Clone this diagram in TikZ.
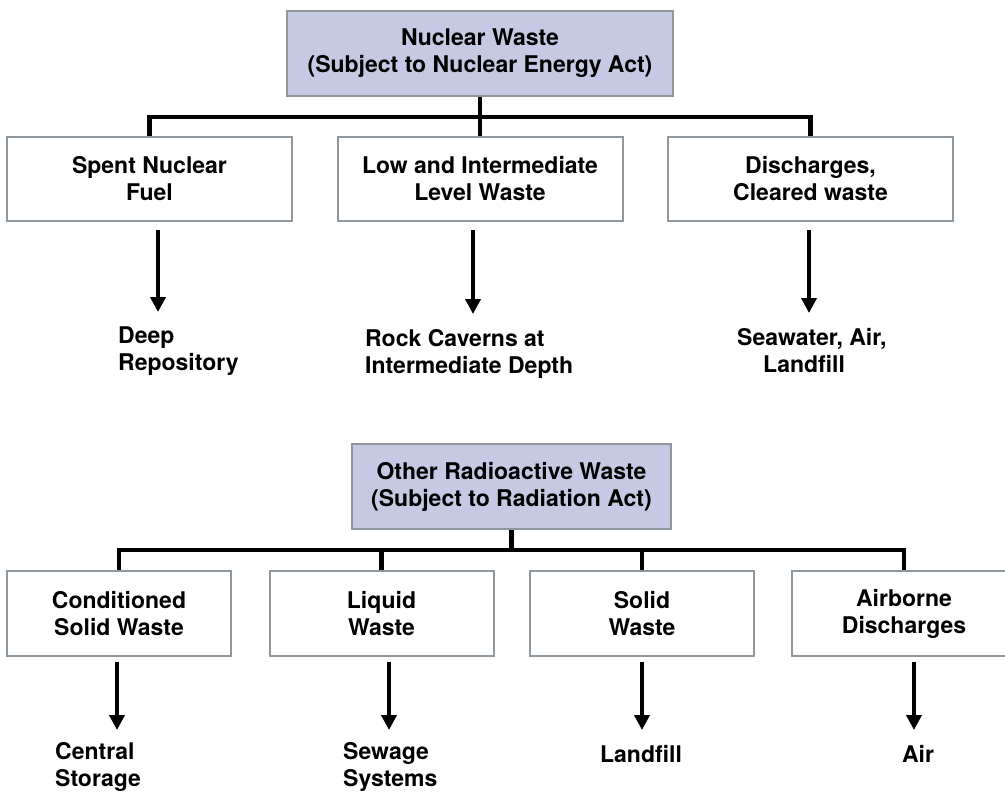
\documentclass[tikz,border=0pt]{standalone}
\usepackage{fontspec}
\setmainfont{TeX Gyre Heros}
\usetikzlibrary{positioning, arrows.meta, backgrounds}
\definecolor{headfill}{RGB}{197, 201, 228}
\definecolor{boxgray}{RGB}{142, 150, 158}

\begin{document}
\begin{tikzpicture}[
    x=1pt, y=1pt,
    every node/.style={font=\fontsize{23}{27}\selectfont\bfseries},
    box/.style={
      draw=boxgray, line width=2pt, align=center, fill=white,
      inner sep=0pt
    },
    headbox/.style={box, fill=headfill, minimum height=85pt},
    wastebox/.style={box, minimum width=285pt, minimum height=84pt},
    otherbox/.style={box, minimum width=224pt, minimum height=85pt},
    dest/.style={align=left, inner sep=0pt, anchor=north west},
    bar/.style={line width=4.5pt, black},
    flow/.style={
      -{Triangle[length=15pt, width=15pt]},
      line width=4.5pt, black, shorten >=15pt
    },
]
    \useasboundingbox (0,0) rectangle (1005,-793);

    % Nuclear waste tree
    \node[headbox, minimum width=386pt] (nw) at (480,-53.5)
      {Nuclear Waste\\(Subject to Nuclear Energy Act)};
    \node[wastebox] (s1) at (149.5,-179) {Spent Nuclear\\Fuel};
    \node[wastebox] (s2) at (480,-179) {Low and Intermediate\\Level Waste};
    \node[wastebox] (s3) at (810.5,-179) {Discharges,\\Cleared waste};

    \node[dest] (d1) at (118,-327) {Deep\\Repository};
    \node[dest] (d2) at (365,-329) {Rock Caverns at\\Intermediate Depth};
    \node[dest] (d3) at (737,-328) {Seawater, Air,\\\hspace*{26pt}Landfill};

    % Other radioactive waste tree
    \node[headbox, minimum width=319pt] (ow) at (511.5,-486.5)
      {Other Radioactive Waste\\(Subject to Radiation Act)};
    \node[otherbox] (o1) at (119,-613.5) {Conditioned\\Solid Waste};
    \node[otherbox] (o2) at (381.5,-613.5) {Liquid\\Waste};
    \node[otherbox] (o3) at (642,-613.5) {Solid\\Waste};
    \node[otherbox] (o4) at (904,-613.5) {Airborne\\Discharges};

    \node[dest] (c1) at (55,-742) {Central\\Storage};
    \node[dest] (c2) at (343,-742) {Sewage\\Systems};
    \node[dest, anchor=north] (c3) at (641,-745) {Landfill};
    \node[dest, anchor=north] (c4) at (918,-745) {Air};

    % Branch lines
    \begin{scope}[on background layer]
      \coordinate (j1) at (480,-117);
      \draw[bar] (nw.south) -- (s2.north);
      \draw[bar] (s1.north) |- (j1) -| (s3.north);

      \coordinate (j2) at (511.5,-550);
      \draw[bar] (ow.south) -- (j2);
      \draw[bar] (o1.north) |- (j2) -| (o4.north);
      \draw[bar] (o2.north) -- (o2.north |- j2);
      \draw[bar] (o3.north) -- (o3.north |- j2);
    \end{scope}

    % Disposal arrows
    \draw[flow] ([xshift=8.5pt,yshift=-8pt]s1.south) -- ([xshift=8.5pt]s1.south |- d1.north);
    \draw[flow] ([xshift=-7pt,yshift=-8pt]s2.south) -- ([xshift=-7pt]s2.south |- d2.north);
    \draw[flow] ([xshift=-1.5pt,yshift=-8pt]s3.south) -- ([xshift=-1.5pt]s3.south |- d3.north);

    \draw[flow] ([xshift=-2pt,yshift=-5pt]o1.south) -- ([xshift=-2pt]o1.south |- c3.north);
    \draw[flow] ([xshift=7.5pt,yshift=-5pt]o2.south) -- ([xshift=7.5pt]o2.south |- c3.north);
    \draw[flow] ([yshift=-5pt]o3.south) -- (o3.south |- c3.north);
    \draw[flow] ([xshift=10pt,yshift=-5pt]o4.south) -- ([xshift=10pt]o4.south |- c4.north);
\end{tikzpicture}
\end{document}
